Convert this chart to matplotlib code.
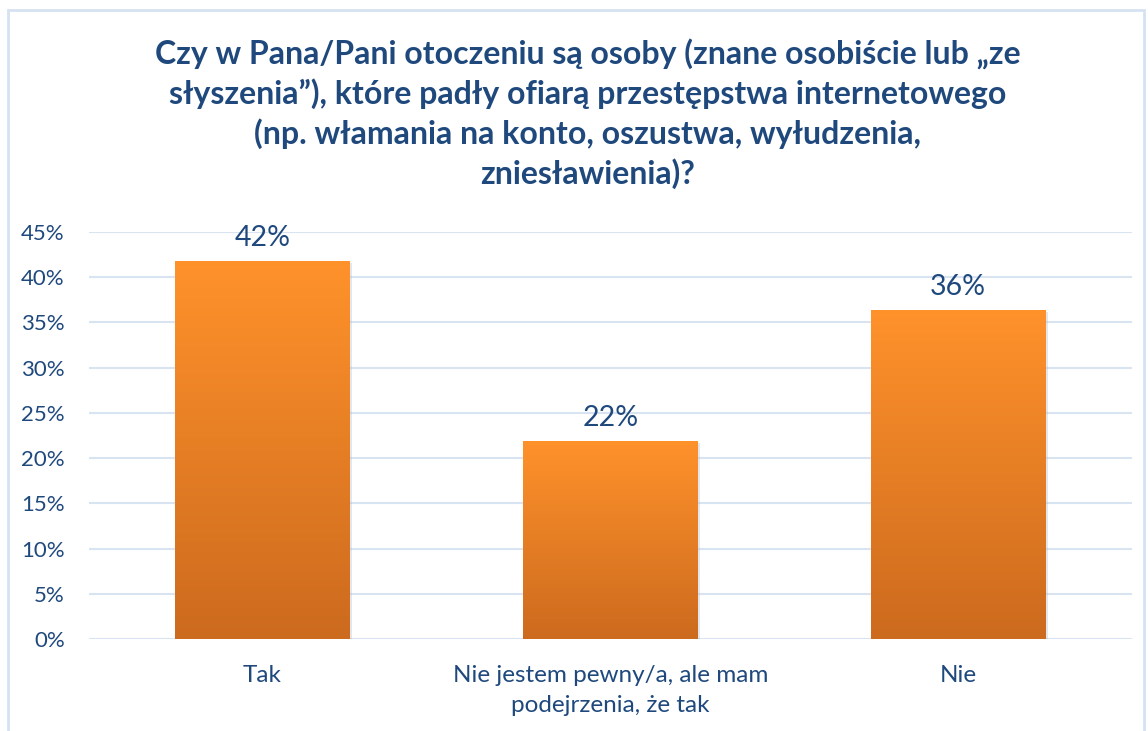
import matplotlib.pyplot as plt
import numpy as np
from matplotlib.colors import LinearSegmentedColormap
from matplotlib.patches import Rectangle

plt.rcParams['font.family'] = ['Lato', 'DejaVu Sans']

categories = ['Tak', 'Nie jestem pewny/a, ale mam\npodejrzenia, że tak', 'Nie']
values = [41.8, 21.9, 36.4]
value_labels = ['42%', '22%', '36%']
yticks = [0, 5, 10, 15, 20, 25, 30, 35, 40, 45]

title = ('Czy w Pana/Pani otoczeniu są osoby (znane osobiście lub \u201eze\n'
         'słyszenia\u201d), które padły ofiarą przestępstwa internetowego\n'
         '(np. włamania na konto, oszustwa, wyłudzenia,\n'
         'zniesławienia)?')

text_col = '#1F497D'
grid_col = '#D9E4F2'
grad = LinearSegmentedColormap.from_list('bar', ['#CC6A1E', '#FF922B'])

fig = plt.figure(figsize=(11.48, 7.31), dpi=100)
ax = fig.add_axes([88.5 / 1148, 1 - 639 / 731, (1132 - 88.5) / 1148, (639 - 232) / 731])

# outer chart border
fig.patches.append(Rectangle((8 / 1148, -0.05), (1144 - 8) / 1148, 1 - 10 / 731 + 0.05,
                             transform=fig.transFigure, fill=False,
                             edgecolor='#D6E2F2', linewidth=2))

x = np.arange(len(categories))
bars = ax.bar(x, values, width=0.503, color='none', zorder=3)

# gradient fill + faint shadow
g = np.linspace(0, 1, 256).reshape(-1, 1)
for b in bars:
    x0, w, h = b.get_x(), b.get_width(), b.get_height()
    ax.add_patch(Rectangle((x0 + 0.006, -0.25), w, h, facecolor='#B0B8C8',
                           alpha=0.35, edgecolor='none', zorder=2))
    im = ax.imshow(g, cmap=grad, aspect='auto', origin='lower',
                   extent=[x0, x0 + w, 0, h], zorder=3)
    im.set_clip_path(b)

for xi, v, lab in zip(x, values, value_labels):
    ax.text(xi, v + 1.1, lab, ha='center', va='bottom', fontsize=20.5, color=text_col)

ax.set_xlim(-0.5, 2.5)
ax.set_ylim(0, 45)
ax.set_yticks(yticks)
ax.set_yticklabels([f'{t}%' for t in yticks], fontsize=16, color=text_col)
ax.set_xticks(x)
ax.set_xticklabels(categories, fontsize=17.5, color=text_col, linespacing=1.52)
ax.tick_params(length=0)
ax.tick_params(axis='x', pad=19)
ax.tick_params(axis='y', pad=17)
ax.yaxis.grid(True, color=grid_col, linewidth=1.5, zorder=0)
ax.set_axisbelow(True)
for s in ax.spines.values():
    s.set_visible(False)

fig.text(588 / 1148, 1 - 38 / 731, title, ha='center', va='top', fontsize=23,
         fontweight='bold', color=text_col, linespacing=1.36)

fig.savefig('out.png', dpi=100)
